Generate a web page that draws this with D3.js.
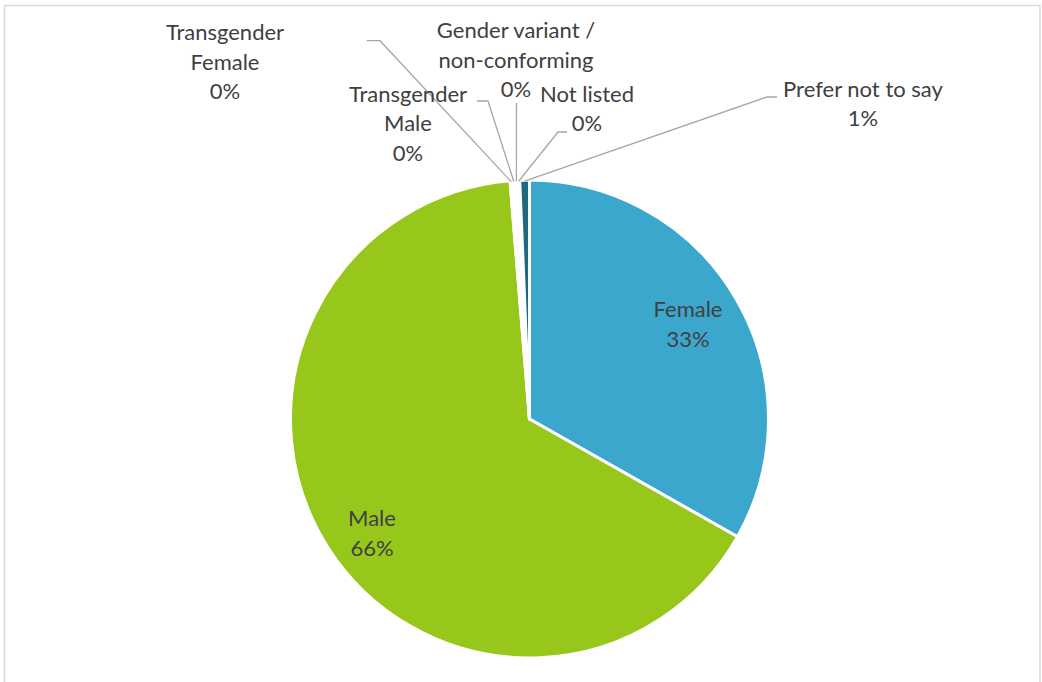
<!DOCTYPE html>
<html>
<head>
<meta charset="utf-8">
<script src="https://cdn.jsdelivr.net/npm/d3@7"></script>
<style>
  html, body { margin: 0; padding: 0; background: #ffffff; }
  svg { display: block; }
  text { font-family: Lato, "Open Sans", sans-serif; }
</style>
</head>
<body>
<svg id="chart" width="1042" height="682"></svg>
<script>
// ---- data ----
const categories = ["Female", "Male", "Transgender Female", "Transgender Male", "Gender variant / non-conforming", "Not listed", "Prefer not to say"];
const values = [33.2, 65.5, 0.15, 0.2, 0.15, 0.15, 0.65];
const percentLabels = ["33%", "66%", "0%", "0%", "0%", "0%", "1%"];
const labelLines = [["Female"], ["Male"], ["Transgender", "Female"], ["Transgender", "Male"], ["Gender variant /", "non-conforming"], ["Not listed"], ["Prefer not to say"]];
const colors = ["#3BA7CD", "#97C71A", "#5B9BD5", "#A5A5A5", "#4472C4", "#70AD47", "#1F687E"];

// ---- layout (positions only) ----
const W = 1042, H = 682;
const cx = 529.5, cy = 419, R = 239;
// label anchor: center x, first baseline y
const labelPos = [
  {x: 688, y: 317},
  {x: 372, y: 526},
  {x: 225, y: 40},
  {x: 408, y: 101.7},
  {x: 516, y: 38},
  {x: 587, y: 101.7},
  {x: 863, y: 96.7}
];
// leader line: start point and elbow (null for inside labels)
const leaders = [
  null, null,
  {start: [366.7, 40.7], elbow: [380, 40.7]},
  {start: [477, 101], elbow: [488, 101]},
  {start: [516.5, 103], elbow: [516.5, 103]},
  {start: [567, 132], elbow: [558, 132]},
  {start: [777, 97], elbow: [767, 97]}
];

const svg = d3.select("#chart");

// outer border
svg.append("rect")
  .attr("x", 4.5).attr("y", 5.5)
  .attr("width", W - 6.5).attr("height", H + 20)
  .attr("fill", "none")
  .attr("stroke", "#d9d9d9")
  .attr("stroke-width", 1.5);

const pie = d3.pie().sort(null).value(d => d)(values);
const arc = d3.arc().innerRadius(0).outerRadius(R);
const g = svg.append("g").attr("transform", `translate(${cx},${cy})`);

g.selectAll("path.slice")
  .data(pie)
  .join("path")
  .attr("class", "slice")
  .attr("d", arc)
  .attr("fill", (d, i) => colors[i])
  .attr("stroke", "#ffffff")
  .attr("stroke-width", 3)
  .attr("stroke-linejoin", "round");

// leader lines
pie.forEach((d, i) => {
  const L = leaders[i];
  if (!L) return;
  const a = (d.startAngle + d.endAngle) / 2;
  const ex = cx + Math.sin(a) * (R - 1);
  const ey = cy - Math.cos(a) * (R - 1);
  svg.append("polyline")
    .attr("points", [L.start, L.elbow, [ex, ey]].map(p => p.join(",")).join(" "))
    .attr("fill", "none")
    .attr("stroke", "#a6a6a6")
    .attr("stroke-width", 1.3);
});

// labels
pie.forEach((d, i) => {
  const p = labelPos[i];
  const lines = labelLines[i].concat([percentLabels[i]]);
  const t = svg.append("text")
    .attr("text-anchor", "middle")
    .attr("font-size", 22)
    .attr("fill", "#404040");
  lines.forEach((ln, k) => {
    t.append("tspan")
      .attr("x", p.x)
      .attr("y", p.y + k * 29.5)
      .text(ln);
  });
});
</script>
</body>
</html>
